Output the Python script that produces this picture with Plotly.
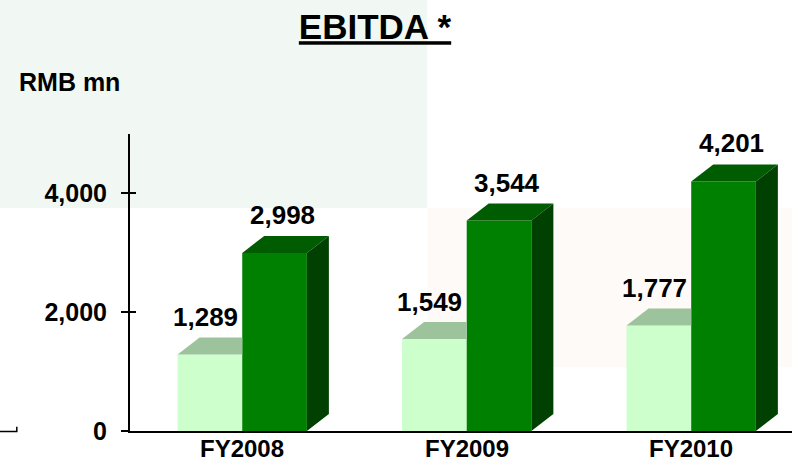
"""EBITDA chart, RMB mn, FY2008-FY2010 -- two series drawn as pseudo-3D bars."""
import plotly.graph_objects as go

YEARS = ["FY2008", "FY2009", "FY2010"]
SERIES_A = [1289, 1549, 1777]      # light green bars
SERIES_B = [2998, 3544, 4201]      # dark green bars
Y_TICKS = [0, 2000, 4000]

INK = "#000000"
FONT = "Liberation Sans, Arial, sans-serif"
LIGHT = dict(front="#ccffcc", top="#9cc39c")
DARK = dict(front="#008000", top="#005c00", side="#004000")

# bar geometry in axis units
BAR_W = 0.288
DX = 0.098          # depth offset along x
DY = 286            # depth offset along y
X_RANGE = [-0.5, 2.449]
Y_RANGE = [0, 5000]

xs = list(range(len(YEARS)))
fig = go.Figure()

fig.add_bar(x=xs, y=SERIES_A, width=BAR_W, offset=-BAR_W,
            marker=dict(color=LIGHT["front"], line=dict(width=0)),
            hovertemplate="%{y:,}<extra></extra>", showlegend=False)
fig.add_bar(x=xs, y=SERIES_B, width=BAR_W, offset=0,
            marker=dict(color=DARK["front"], line=dict(width=0)),
            hovertemplate="%{y:,}<extra></extra>", showlegend=False)

# light tops, clipped at the dark bar's left edge
for i, v in zip(xs, SERIES_A):
    left, right = i - BAR_W, i
    fig.add_scatter(x=[left, left + DX, right, right, left],
                    y=[v, v + DY, v + DY, v, v],
                    fill="toself", fillcolor=LIGHT["top"], mode="none",
                    hoverinfo="skip", showlegend=False)

for i, v in zip(xs, SERIES_B):
    left, right = i, i + BAR_W
    fig.add_scatter(x=[left, left + DX, right + DX, right, left],
                    y=[v, v + DY, v + DY, v, v],
                    fill="toself", fillcolor=DARK["top"], mode="none",
                    hoverinfo="skip", showlegend=False)
    fig.add_scatter(x=[right, right + DX, right + DX, right, right],
                    y=[0, DY, v + DY, v, 0],
                    fill="toself", fillcolor=DARK["side"], mode="none",
                    hoverinfo="skip", showlegend=False)

# dummy trace so the inside-tick overlay axis is drawn
fig.add_scatter(x=[0], y=[0], yaxis="y2", mode="none",
                hoverinfo="skip", showlegend=False)

label_font = dict(family=FONT, size=26, color=INK, weight="bold")
for i, v in zip(xs, SERIES_A):
    fig.add_annotation(x=i - BAR_W / 2 - 0.02, y=v + DY, text=f"{v:,}",
                       showarrow=False, yanchor="middle", yshift=20,
                       font=label_font)
for i, v in zip(xs, SERIES_B):
    fig.add_annotation(x=i + BAR_W / 2 + 0.035, y=v + DY, text=f"{v:,}",
                       showarrow=False, yanchor="middle", yshift=21,
                       font=label_font)

# category labels under the axis
for i, name in zip(xs, YEARS):
    fig.add_annotation(x=i, y=0, yref="paper", text=name, showarrow=False,
                       yanchor="top", yshift=-2,
                       font=dict(family=FONT, size=24, color=INK, weight="bold"))

fig.add_annotation(x=-0.171, y=1.175, xref="paper", yref="paper",
                   text="RMB mn", showarrow=False, xanchor="left",
                   yanchor="middle",
                   font=dict(family=FONT, size=25, color=INK, weight="bold"))

# slide background panels
fig.add_shape(type="rect", xref="paper", yref="paper", x0=-0.2, x1=0.449,
              y0=0.751, y1=1.46, fillcolor="#f1f8f3", line_width=0, layer="below")
fig.add_shape(type="rect", xref="paper", yref="paper", x0=0.449, x1=1.0,
              y0=0.215, y1=0.751, fillcolor="#fefaf7", line_width=0, layer="below")
# small corner mark at bottom-left of the slide
fig.add_shape(type="path", xref="paper", yref="paper",
              path="M -0.2,-0.002 L -0.171,-0.002 L -0.171,0.014",
              line=dict(color=INK, width=1.5))

fig.update_layout(
    width=792, height=465,
    margin=dict(l=130, r=0, t=134, b=34, autoexpand=False),
    paper_bgcolor="white", plot_bgcolor="rgba(0,0,0,0)",
    barmode="overlay",
    title=dict(text="<u>EBITDA *</u>", x=0.4735, xanchor="center",
               y=0.942, yanchor="middle",
               font=dict(family=FONT, size=35, color=INK, weight="bold")),
    xaxis=dict(range=X_RANGE, tickvals=xs, showticklabels=False, ticks="",
               automargin=False,
               showgrid=False, zeroline=False, showline=True,
               linecolor=INK, linewidth=1.5),
    yaxis=dict(range=Y_RANGE, tickvals=Y_TICKS, tickformat=",",
               ticks="outside", ticklen=7, tickwidth=1.5, tickcolor=INK,
               ticklabelstandoff=9, automargin=False,
               showgrid=False, zeroline=False, showline=True,
               linecolor=INK, linewidth=2,
               tickfont=dict(family=FONT, size=25, color=INK, weight="bold")),
    yaxis2=dict(range=Y_RANGE, overlaying="y", side="left", tickvals=Y_TICKS,
                ticks="inside", ticklen=6, tickwidth=1.5, tickcolor=INK,
                automargin=False,
                showticklabels=False, showgrid=False, zeroline=False,
                showline=False),
)

# drop the browser's default body margin so the figure sits at the page corner
fig.write_html("out.html", config={"displayModeBar": False},
               post_script="document.body.style.margin='0';")
